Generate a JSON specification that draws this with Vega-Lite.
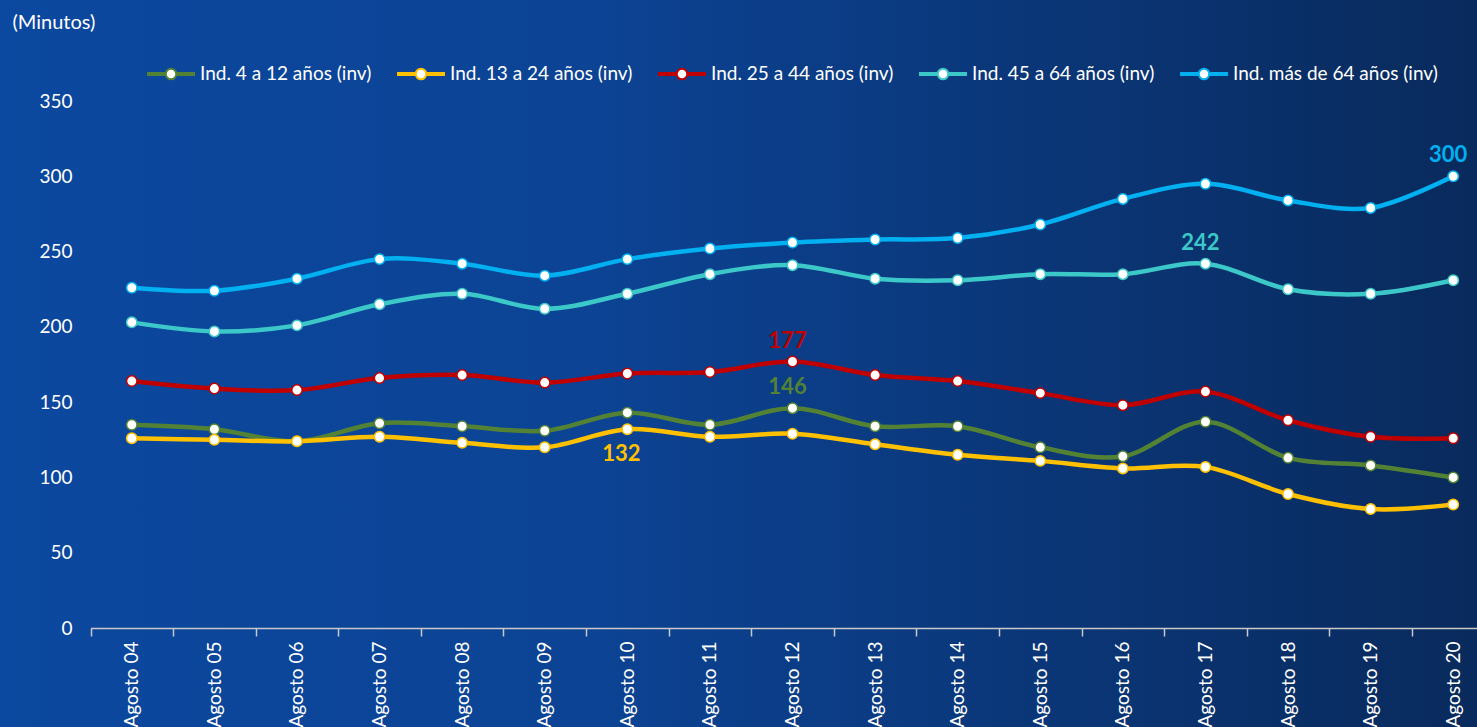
{
  "$schema": "https://vega.github.io/schema/vega-lite/v6.json",
  "width": 1477,
  "height": 727,
  "autosize": {"type": "none"},
  "padding": 0,
  "background": "#0b479e",
  "config": {
    "view": {
      "stroke": null,
      "fill": {
        "gradient": "linear",
        "x1": 0, "y1": 0, "x2": 1, "y2": 0,
        "stops": [
          {"offset": 0, "color": "#0b489f"},
          {"offset": 0.4, "color": "#0c4394"},
          {"offset": 1, "color": "#092a5c"}
        ]
      }
    },
    "font": "Lato",
    "axis": {"labelFont": "Lato", "titleFont": "Lato", "grid": false},
    "legend": {"labelFont": "Lato", "symbolFillColor": "#ffffff"},
    "text": {"fontSize": 22, "fontWeight": "bold", "font": "Lato", "dx": -5, "dy": -21}
  },
  "data": {
    "values": [
      {"fecha": "Agosto 04", "serie": "Ind. 4 a 12 años (inv)", "valor": 135},
      {"fecha": "Agosto 05", "serie": "Ind. 4 a 12 años (inv)", "valor": 132},
      {"fecha": "Agosto 06", "serie": "Ind. 4 a 12 años (inv)", "valor": 124},
      {"fecha": "Agosto 07", "serie": "Ind. 4 a 12 años (inv)", "valor": 136},
      {"fecha": "Agosto 08", "serie": "Ind. 4 a 12 años (inv)", "valor": 134},
      {"fecha": "Agosto 09", "serie": "Ind. 4 a 12 años (inv)", "valor": 131},
      {"fecha": "Agosto 10", "serie": "Ind. 4 a 12 años (inv)", "valor": 143},
      {"fecha": "Agosto 11", "serie": "Ind. 4 a 12 años (inv)", "valor": 135},
      {"fecha": "Agosto 12", "serie": "Ind. 4 a 12 años (inv)", "valor": 146},
      {"fecha": "Agosto 13", "serie": "Ind. 4 a 12 años (inv)", "valor": 134},
      {"fecha": "Agosto 14", "serie": "Ind. 4 a 12 años (inv)", "valor": 134},
      {"fecha": "Agosto 15", "serie": "Ind. 4 a 12 años (inv)", "valor": 120},
      {"fecha": "Agosto 16", "serie": "Ind. 4 a 12 años (inv)", "valor": 114},
      {"fecha": "Agosto 17", "serie": "Ind. 4 a 12 años (inv)", "valor": 137},
      {"fecha": "Agosto 18", "serie": "Ind. 4 a 12 años (inv)", "valor": 113},
      {"fecha": "Agosto 19", "serie": "Ind. 4 a 12 años (inv)", "valor": 108},
      {"fecha": "Agosto 20", "serie": "Ind. 4 a 12 años (inv)", "valor": 100},
      {"fecha": "Agosto 04", "serie": "Ind. 13 a 24 años (inv)", "valor": 126},
      {"fecha": "Agosto 05", "serie": "Ind. 13 a 24 años (inv)", "valor": 125},
      {"fecha": "Agosto 06", "serie": "Ind. 13 a 24 años (inv)", "valor": 124},
      {"fecha": "Agosto 07", "serie": "Ind. 13 a 24 años (inv)", "valor": 127},
      {"fecha": "Agosto 08", "serie": "Ind. 13 a 24 años (inv)", "valor": 123},
      {"fecha": "Agosto 09", "serie": "Ind. 13 a 24 años (inv)", "valor": 120},
      {"fecha": "Agosto 10", "serie": "Ind. 13 a 24 años (inv)", "valor": 132},
      {"fecha": "Agosto 11", "serie": "Ind. 13 a 24 años (inv)", "valor": 127},
      {"fecha": "Agosto 12", "serie": "Ind. 13 a 24 años (inv)", "valor": 129},
      {"fecha": "Agosto 13", "serie": "Ind. 13 a 24 años (inv)", "valor": 122},
      {"fecha": "Agosto 14", "serie": "Ind. 13 a 24 años (inv)", "valor": 115},
      {"fecha": "Agosto 15", "serie": "Ind. 13 a 24 años (inv)", "valor": 111},
      {"fecha": "Agosto 16", "serie": "Ind. 13 a 24 años (inv)", "valor": 106},
      {"fecha": "Agosto 17", "serie": "Ind. 13 a 24 años (inv)", "valor": 107},
      {"fecha": "Agosto 18", "serie": "Ind. 13 a 24 años (inv)", "valor": 89},
      {"fecha": "Agosto 19", "serie": "Ind. 13 a 24 años (inv)", "valor": 79},
      {"fecha": "Agosto 20", "serie": "Ind. 13 a 24 años (inv)", "valor": 82},
      {"fecha": "Agosto 04", "serie": "Ind. 25 a 44 años (inv)", "valor": 164},
      {"fecha": "Agosto 05", "serie": "Ind. 25 a 44 años (inv)", "valor": 159},
      {"fecha": "Agosto 06", "serie": "Ind. 25 a 44 años (inv)", "valor": 158},
      {"fecha": "Agosto 07", "serie": "Ind. 25 a 44 años (inv)", "valor": 166},
      {"fecha": "Agosto 08", "serie": "Ind. 25 a 44 años (inv)", "valor": 168},
      {"fecha": "Agosto 09", "serie": "Ind. 25 a 44 años (inv)", "valor": 163},
      {"fecha": "Agosto 10", "serie": "Ind. 25 a 44 años (inv)", "valor": 169},
      {"fecha": "Agosto 11", "serie": "Ind. 25 a 44 años (inv)", "valor": 170},
      {"fecha": "Agosto 12", "serie": "Ind. 25 a 44 años (inv)", "valor": 177},
      {"fecha": "Agosto 13", "serie": "Ind. 25 a 44 años (inv)", "valor": 168},
      {"fecha": "Agosto 14", "serie": "Ind. 25 a 44 años (inv)", "valor": 164},
      {"fecha": "Agosto 15", "serie": "Ind. 25 a 44 años (inv)", "valor": 156},
      {"fecha": "Agosto 16", "serie": "Ind. 25 a 44 años (inv)", "valor": 148},
      {"fecha": "Agosto 17", "serie": "Ind. 25 a 44 años (inv)", "valor": 157},
      {"fecha": "Agosto 18", "serie": "Ind. 25 a 44 años (inv)", "valor": 138},
      {"fecha": "Agosto 19", "serie": "Ind. 25 a 44 años (inv)", "valor": 127},
      {"fecha": "Agosto 20", "serie": "Ind. 25 a 44 años (inv)", "valor": 126},
      {"fecha": "Agosto 04", "serie": "Ind. 45 a 64 años (inv)", "valor": 203},
      {"fecha": "Agosto 05", "serie": "Ind. 45 a 64 años (inv)", "valor": 197},
      {"fecha": "Agosto 06", "serie": "Ind. 45 a 64 años (inv)", "valor": 201},
      {"fecha": "Agosto 07", "serie": "Ind. 45 a 64 años (inv)", "valor": 215},
      {"fecha": "Agosto 08", "serie": "Ind. 45 a 64 años (inv)", "valor": 222},
      {"fecha": "Agosto 09", "serie": "Ind. 45 a 64 años (inv)", "valor": 212},
      {"fecha": "Agosto 10", "serie": "Ind. 45 a 64 años (inv)", "valor": 222},
      {"fecha": "Agosto 11", "serie": "Ind. 45 a 64 años (inv)", "valor": 235},
      {"fecha": "Agosto 12", "serie": "Ind. 45 a 64 años (inv)", "valor": 241},
      {"fecha": "Agosto 13", "serie": "Ind. 45 a 64 años (inv)", "valor": 232},
      {"fecha": "Agosto 14", "serie": "Ind. 45 a 64 años (inv)", "valor": 231},
      {"fecha": "Agosto 15", "serie": "Ind. 45 a 64 años (inv)", "valor": 235},
      {"fecha": "Agosto 16", "serie": "Ind. 45 a 64 años (inv)", "valor": 235},
      {"fecha": "Agosto 17", "serie": "Ind. 45 a 64 años (inv)", "valor": 242},
      {"fecha": "Agosto 18", "serie": "Ind. 45 a 64 años (inv)", "valor": 225},
      {"fecha": "Agosto 19", "serie": "Ind. 45 a 64 años (inv)", "valor": 222},
      {"fecha": "Agosto 20", "serie": "Ind. 45 a 64 años (inv)", "valor": 231},
      {"fecha": "Agosto 04", "serie": "Ind. más de 64 años (inv)", "valor": 226},
      {"fecha": "Agosto 05", "serie": "Ind. más de 64 años (inv)", "valor": 224},
      {"fecha": "Agosto 06", "serie": "Ind. más de 64 años (inv)", "valor": 232},
      {"fecha": "Agosto 07", "serie": "Ind. más de 64 años (inv)", "valor": 245},
      {"fecha": "Agosto 08", "serie": "Ind. más de 64 años (inv)", "valor": 242},
      {"fecha": "Agosto 09", "serie": "Ind. más de 64 años (inv)", "valor": 234},
      {"fecha": "Agosto 10", "serie": "Ind. más de 64 años (inv)", "valor": 245},
      {"fecha": "Agosto 11", "serie": "Ind. más de 64 años (inv)", "valor": 252},
      {"fecha": "Agosto 12", "serie": "Ind. más de 64 años (inv)", "valor": 256},
      {"fecha": "Agosto 13", "serie": "Ind. más de 64 años (inv)", "valor": 258},
      {"fecha": "Agosto 14", "serie": "Ind. más de 64 años (inv)", "valor": 259},
      {"fecha": "Agosto 15", "serie": "Ind. más de 64 años (inv)", "valor": 268},
      {"fecha": "Agosto 16", "serie": "Ind. más de 64 años (inv)", "valor": 285},
      {"fecha": "Agosto 17", "serie": "Ind. más de 64 años (inv)", "valor": 295},
      {"fecha": "Agosto 18", "serie": "Ind. más de 64 años (inv)", "valor": 284},
      {"fecha": "Agosto 19", "serie": "Ind. más de 64 años (inv)", "valor": 279},
      {"fecha": "Agosto 20", "serie": "Ind. más de 64 años (inv)", "valor": 300}
    ]
  },
  "encoding": {
    "x": {
      "field": "fecha",
      "type": "nominal",
      "bandPosition": 0.5,
      "scale": {"type": "band", "range": [90.5, 1494.5], "paddingInner": 0, "paddingOuter": 0},
      "axis": {
        "title": null,
        "offset": -99,
        "tickBand": "extent",
        "labelAngle": 270,
        "labelAlign": "right",
        "labelBaseline": "middle",
        "labelPadding": 5,
        "labelFontSize": 19,
        "labelColor": "#ffffff",
        "domainColor": "#c9c9c9",
        "domainWidth": 1.5,
        "tickColor": "#c9c9c9",
        "tickWidth": 1.5,
        "tickSize": 8
      }
    },
    "y": {
      "field": "valor",
      "type": "quantitative",
      "scale": {"domain": [-65.75, 417.1], "nice": false, "zero": false},
      "axis": {
        "title": "(Minutos)",
        "titleAngle": 0,
        "titleAlign": "left",
        "titleBaseline": "middle",
        "titleX": -73,
        "titleY": 22,
        "titleColor": "#ffffff",
        "titleFontSize": 20,
        "titleFontWeight": "normal",
        "offset": -85,
        "values": [0, 50, 100, 150, 200, 250, 300, 350],
        "domain": false,
        "ticks": false,
        "tickSize": 0,
        "labelPadding": 13,
        "labelFontSize": 19,
        "labelColor": "#ffffff"
      }
    }
  },
  "layer": [
    {
      "mark": {"type": "line", "interpolate": "cardinal", "strokeWidth": 4.5, "clip": false},
      "encoding": {
        "stroke": {
          "field": "serie",
          "type": "nominal",
          "scale": {
            "domain": ["Ind. 4 a 12 años (inv)", "Ind. 13 a 24 años (inv)", "Ind. 25 a 44 años (inv)", "Ind. 45 a 64 años (inv)", "Ind. más de 64 años (inv)"],
            "range": ["#548235", "#ffc000", "#c00000", "#3cc8c8", "#00b0f0"]
          },
          "legend": {
            "title": null,
            "orient": "none",
            "legendX": 146,
            "legendY": 49,
            "direction": "horizontal",
            "columns": 5,
            "columnPadding": 21,
            "padding": 0,
            "symbolType": "M-1,-0.04H-0.22M-1,0.04H-0.22M0.22,-0.04H1M0.22,0.04H1M-0.22,0A0.22,0.22,0,1,1,0.22,0A0.22,0.22,0,1,1,-0.22,0Z",
            "symbolSize": 2304,
            "symbolStrokeWidth": 2,
            "symbolFillColor": "#ffffff",
            "labelOffset": 4,
            "labelFontSize": 19,
            "labelColor": "#ffffff",
            "labelLimit": 400
          }
        }
      }
    },
    {
      "mark": {"type": "point", "filled": true, "fill": "#ffffff", "size": 110, "strokeWidth": 1.5, "opacity": 1, "clip": false},
      "encoding": {
        "stroke": {"field": "serie", "type": "nominal", "legend": null}
      }
    },
    {
      "transform": [{"filter": "datum.serie == 'Ind. más de 64 años (inv)' && datum.fecha == 'Agosto 20'"}],
      "mark": {"type": "text", "color": "#00b0f0"},
      "encoding": {"text": {"field": "valor", "type": "quantitative"}}
    },
    {
      "transform": [{"filter": "datum.serie == 'Ind. 45 a 64 años (inv)' && datum.fecha == 'Agosto 17'"}],
      "mark": {"type": "text", "color": "#3cc8c8"},
      "encoding": {"text": {"field": "valor", "type": "quantitative"}}
    },
    {
      "transform": [{"filter": "datum.serie == 'Ind. 25 a 44 años (inv)' && datum.fecha == 'Agosto 12'"}],
      "mark": {"type": "text", "color": "#c00000"},
      "encoding": {"text": {"field": "valor", "type": "quantitative"}}
    },
    {
      "transform": [{"filter": "datum.serie == 'Ind. 4 a 12 años (inv)' && datum.fecha == 'Agosto 12'"}],
      "mark": {"type": "text", "color": "#548235"},
      "encoding": {"text": {"field": "valor", "type": "quantitative"}}
    },
    {
      "transform": [{"filter": "datum.serie == 'Ind. 13 a 24 años (inv)' && datum.fecha == 'Agosto 10'"}],
      "mark": {"type": "text", "color": "#ffc000", "dy": 25, "dx": -6},
      "encoding": {"text": {"field": "valor", "type": "quantitative"}}
    }
  ]
}
